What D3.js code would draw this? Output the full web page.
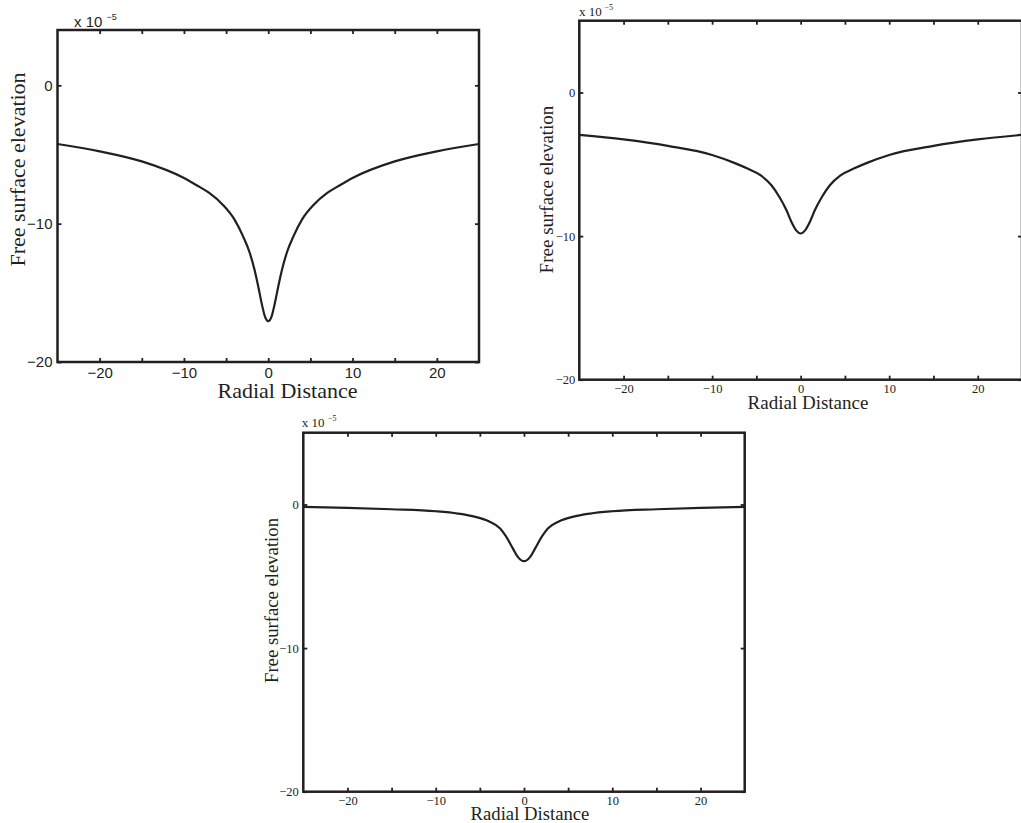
<!DOCTYPE html>
<html>
<head>
<meta charset="utf-8">
<script src="https://cdn.jsdelivr.net/npm/d3@7"></script>
<style>
  html, body { margin: 0; padding: 0; background: #fff; }
  svg { display: block; }
</style>
</head>
<body>
<svg id="chart" width="1021" height="823"></svg>
<script>
// ---------- data (values in units of 1e-5) ----------
const xTicks = [-20, -15, -10, -5, 0, 5, 10, 15, 20];
const xTickLabels = [-20, -10, 0, 10, 20];
const yTicks = [-20, -10, 0];

// Panel A (top-left)
const xA = [-25, -20, -15, -10, -8.5, -7, -5.4, -4, -3, -2.2, -1.6, -1.2, -0.8, -0.4, 0,
            0.4, 0.8, 1.2, 1.6, 2.2, 3, 4, 5.4, 7, 8.5, 10, 15, 20, 25];
const yA = [-4.24, -4.77, -5.5, -6.7, -7.22, -7.78, -8.63, -9.71, -10.9, -12.1, -13.4, -14.5, -15.7, -16.7, -17.05,
            -16.7, -15.7, -14.5, -13.4, -12.1, -10.9, -9.71, -8.63, -7.78, -7.22, -6.7, -5.5, -4.77, -4.24];

// Panel B (top-right)
const xB = [-25, -20, -15, -10, -7.5, -6, -4.5, -3.3, -2.4, -1.6, -1.05, -0.5, 0,
            0.5, 1.05, 1.6, 2.4, 3.3, 4.5, 6, 7.5, 10, 15, 20, 25];
const yB = [-2.95, -3.27, -3.72, -4.35, -4.9, -5.3, -5.77, -6.46, -7.28, -8.2, -9.0, -9.6, -9.82,
            -9.6, -9.0, -8.2, -7.28, -6.46, -5.77, -5.3, -4.9, -4.35, -3.72, -3.27, -2.95];

// Panel C (bottom)
const xC = [-25, -20, -15, -10, -7.5, -5.5, -4, -2.7, -2, -1.25, -0.7, 0,
            0.7, 1.25, 2, 2.7, 4, 5.5, 7.5, 10, 15, 20, 25];
const yC = [-0.16, -0.23, -0.33, -0.47, -0.63, -0.86, -1.16, -1.67, -2.26, -3.07, -3.65, -3.95,
            -3.65, -3.07, -2.26, -1.67, -1.16, -0.86, -0.63, -0.47, -0.33, -0.23, -0.16];

const xLabel = "Radial Distance";
const yLabel = "Free surface elevation";
const expBase = "x 10";
const expPow = "\u22125";

// ---------- layout ----------
const INK = "#231f20";
const SANS = "'Liberation Sans', Arial, Helvetica, sans-serif";
const SERIF = "'Liberation Serif', 'Times New Roman', Times, serif";

const panels = [
  { xs: xA, ys: yA, left: 57.5, right: 479, top: 30, bottom: 362, yMax: 4,
    tickFont: SANS, tickSize: 15, pad: 5, labelSize: 22,
    xl: [287.5, 398], yl: [25, 169.5],
    expX: 74, expY: 26.5, expFs: 15, expFont: SANS, powX: 106.5, powY: 20, powFs: 9 },
  { xs: xB, ys: yB, left: 579.3, right: 1022, top: 20.7, bottom: 379.7, yMax: 5,
    tickFont: SERIF, tickSize: 12.5, pad: 4, labelSize: 19,
    xl: [808, 408.5], yl: [553, 189.5],
    expX: 579, expY: 15.5, expFs: 13, expFont: SERIF, powX: 604.5, powY: 9.5, powFs: 8 },
  { xs: xC, ys: yC, left: 303.3, right: 744.7, top: 432.7, bottom: 791.7, yMax: 5,
    tickFont: SERIF, tickSize: 12.5, pad: 4.5, labelSize: 18.7,
    xl: [530, 819.5], yl: [278, 600.5],
    expX: 301.7, expY: 427.3, expFs: 13, expFont: SERIF, powX: 328, powY: 421, powFs: 8 }
];

const svg = d3.select("#chart");
svg.append("rect").attr("width", 1021).attr("height", 823).attr("fill", "#fff");

const fmt = d3.format("d");

panels.forEach(p => {
  const x = d3.scaleLinear().domain([-25, 25]).range([p.left, p.right]);
  const y = d3.scaleLinear().domain([-20, p.yMax]).range([p.bottom, p.top]);
  const g = svg.append("g");
  const labelFmt = d => xTickLabels.includes(d) ? fmt(d) : "";

  const styleAxis = sel => {
    sel.select(".domain").remove();
    sel.selectAll(".tick line").attr("stroke", INK).attr("stroke-width", 1.8);
    sel.selectAll(".tick text").attr("fill", INK)
      .style("font-family", p.tickFont).style("font-size", p.tickSize + "px");
  };

  g.append("g").attr("transform", `translate(0,${p.bottom})`)
    .call(d3.axisBottom(x).tickValues(xTicks).tickSizeInner(-4).tickSizeOuter(0)
      .tickPadding(p.pad).tickFormat(labelFmt))
    .call(styleAxis);
  g.append("g").attr("transform", `translate(0,${p.top})`)
    .call(d3.axisTop(x).tickValues(xTicks).tickSizeInner(-4).tickSizeOuter(0).tickFormat(""))
    .call(styleAxis);
  g.append("g").attr("transform", `translate(${p.left},0)`)
    .call(d3.axisLeft(y).tickValues(yTicks).tickSizeInner(-4).tickSizeOuter(0)
      .tickPadding(p.pad).tickFormat(fmt))
    .call(styleAxis);
  g.append("g").attr("transform", `translate(${p.right},0)`)
    .call(d3.axisRight(y).tickValues(yTicks).tickSizeInner(-4).tickSizeOuter(0).tickFormat(""))
    .call(styleAxis);

  // frame
  g.append("rect")
    .attr("x", p.left).attr("y", p.top)
    .attr("width", p.right - p.left).attr("height", p.bottom - p.top)
    .attr("fill", "none").attr("stroke", INK).attr("stroke-width", 2.5);

  // curve
  const data = p.xs.map((v, i) => [v, p.ys[i]]);
  g.append("path").datum(data)
    .attr("fill", "none").attr("stroke", INK).attr("stroke-width", 2.2)
    .attr("stroke-linejoin", "round")
    .attr("d", d3.line().x(d => x(d[0])).y(d => y(d[1])).curve(d3.curveMonotoneX));

  // axis labels
  g.append("text").attr("x", p.xl[0]).attr("y", p.xl[1])
    .attr("text-anchor", "middle").attr("fill", INK)
    .style("font-family", SERIF).style("font-size", p.labelSize + "px")
    .text(xLabel);
  g.append("text")
    .attr("transform", `translate(${p.yl[0]},${p.yl[1]}) rotate(-90)`)
    .attr("text-anchor", "middle").attr("fill", INK)
    .style("font-family", SERIF).style("font-size", p.labelSize + "px")
    .text(yLabel);

  // exponent
  g.append("text").attr("x", p.expX).attr("y", p.expY).attr("fill", INK)
    .style("font-family", p.expFont).style("font-size", p.expFs + "px")
    .text(expBase);
  g.append("text").attr("x", p.powX).attr("y", p.powY).attr("fill", INK)
    .style("font-family", p.expFont).style("font-size", p.powFs + "px")
    .text(expPow);
});
</script>
</body>
</html>
